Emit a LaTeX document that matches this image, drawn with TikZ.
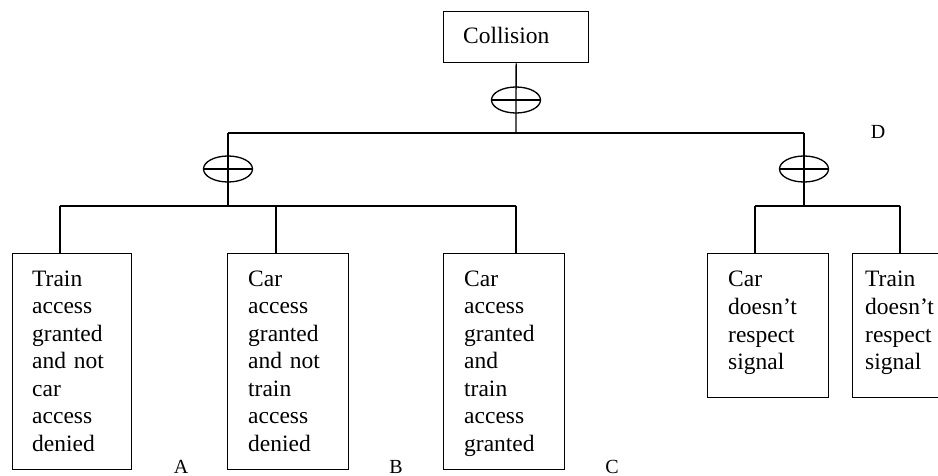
\documentclass[tikz,border=0pt]{standalone}
\usepackage{fontspec}
\setmainfont{Liberation Serif}
\usetikzlibrary{positioning,shapes.geometric}

\begin{document}
\begin{tikzpicture}
[ x=1pt,y=-1pt,
		event/.style={rectangle,draw,line width=1.3pt,anchor=north west,inner sep=0pt},
		eventtext/.style={anchor=base west,inner sep=0pt,text width=95pt,align=left,font=\fontsize{23.5}{27.6}\selectfont},
		gate/.style={ellipse,draw,line width=1.3pt,minimum width=49pt,minimum height=26pt,inner sep=0pt},
		link/.style={line width=1.3pt},
		tag/.style={anchor=base,inner sep=0pt,font=\fontsize{20}{24}\selectfont}]

	\useasboundingbox (0,0) rectangle (938,476);

	\node[event,minimum width=145pt,minimum height=51pt] (collision) at (443,11) {};
	\node[eventtext] (collision text) at (463,44) {Collision};

	\node[gate] (top gate) at (516,100) {};
	\node[gate] (left gate) at (228,169) {};
	\node[gate] (right gate) at (804,169) {};

	\node[event,minimum width=119pt,minimum height=216pt] (train granted) at (12,253) {};
	\node[event,minimum width=121pt,minimum height=216pt] (car granted) at (227,253) {};
	\node[event,minimum width=121pt,minimum height=216pt] (both granted) at (443,253) {};
	\node[event,minimum width=121pt,minimum height=144pt] (car signal) at (707,253) {};
	\node[event,minimum width=98pt,minimum height=144pt] (train signal) at (852,253) {};

	\node[eventtext] (train granted text) at (32,286) {Train\\access\\granted\\and not\\car\\access\\denied};
	\node[eventtext] (car granted text) at (248,286) {Car\\access\\granted\\and not\\train\\access\\denied};
	\node[eventtext] (both granted text) at (464,286) {Car\\access\\granted\\and\\train\\access\\granted};
	\node[eventtext] (car signal text) at (728,287) {Car\\doesn't\\respect\\signal};
	\node[eventtext] (train signal text) at (865,287) {Train\\doesn't\\respect\\signal};

	\node[tag] (label A) at (181,473) {A};
	\node[tag] (label B) at (396,473) {B};
	\node[tag] (label C) at (612,473) {C};
	\node[tag] (label D) at (878,139) {D};

	\coordinate (top joint) at (516,133);
	\coordinate (left joint) at (228,133);
	\coordinate (right joint) at (804,133);
	\coordinate (left bar) at (228,206);
	\coordinate (right bar) at (804,206);
	\coordinate (joint A) at (60,206);
	\coordinate (joint B) at (276,206);
	\coordinate (joint C) at (516,206);
	\coordinate (joint D) at (755,206);
	\coordinate (joint E) at (900,206);

	\draw[link] (collision.south) -- (top joint);
	\draw[link] (left joint) -- (right joint);
	\draw[link] (left joint) -- (left bar);
	\draw[link] (right joint) -- (right bar);
	\draw[link] (joint A) -- (joint C);
	\draw[link] (joint D) -- (joint E);
	\draw[link] (joint A) -- (joint A |- train granted.north);
	\draw[link] (joint B) -- (joint B |- car granted.north);
	\draw[link] (joint C) -- (joint C |- both granted.north);
	\draw[link] (joint D) -- (joint D |- car signal.north);
	\draw[link] (joint E) -- (joint E |- train signal.north);
	\foreach \g in {top gate,left gate,right gate}
		\draw[link] (\g.west) -- (\g.east);
\end{tikzpicture}
\end{document}
